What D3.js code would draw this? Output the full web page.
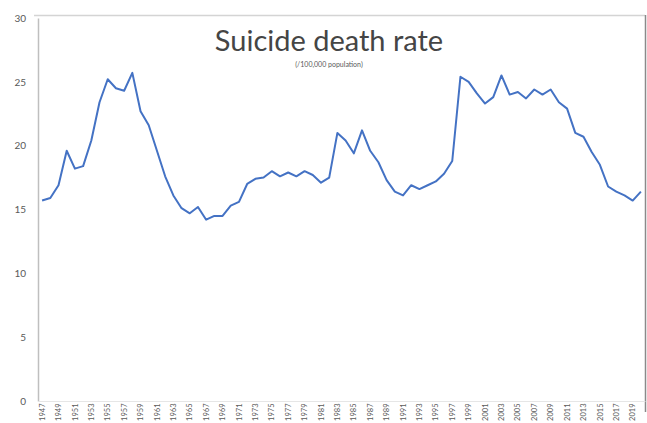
<!DOCTYPE html>
<html>
<head>
<meta charset="utf-8">
<script src="https://cdn.jsdelivr.net/npm/d3@7"></script>
<style>
  html, body { margin: 0; padding: 0; background: #ffffff; }
  svg { display: block; }
</style>
</head>
<body>
<script>
const years = d3.range(1947, 2021).map(String);
const rates = [
  15.7, 15.9, 16.9, 19.6, 18.2, 18.4, 20.4, 23.4, 25.2, 24.5,
  24.3, 25.7, 22.7, 21.6, 19.6, 17.6, 16.1, 15.1, 14.7, 15.2,
  14.2, 14.5, 14.5, 15.3, 15.6, 17.0, 17.4, 17.5, 18.0, 17.6,
  17.9, 17.6, 18.0, 17.7, 17.1, 17.5, 21.0, 20.4, 19.4, 21.2,
  19.6, 18.7, 17.3, 16.4, 16.1, 16.9, 16.6, 16.9, 17.2, 17.8,
  18.8, 25.4, 25.0, 24.1, 23.3, 23.8, 25.5, 24.0, 24.2, 23.7,
  24.4, 24.0, 24.4, 23.4, 22.9, 21.0, 20.7, 19.5, 18.5, 16.8,
  16.4, 16.1, 15.7, 16.4
];
const yTicks = [0, 5, 10, 15, 20, 25, 30];
const xTickLabels = years.filter((y, i) => i % 2 === 0);
const titleText = "Suicide death rate";
const subtitleText = "(/100,000 population)";

const W = 647, H = 423;
const svg = d3.select("body").append("svg").attr("width", W).attr("height", H);

const pLeft = 38, pRight = 645, pTop = 18, pBottom = 401;

const x = d3.scaleBand().domain(years).range([pLeft, pRight]).padding(0);
const y = d3.scaleLinear().domain([0, 30]).range([pBottom, pTop]);

// frame
svg.append("line").attr("x1", 34).attr("x2", pRight).attr("y1", 15.5).attr("y2", 15.5)
  .attr("stroke", "#d4d4d4").attr("stroke-width", 1.5);
svg.append("line").attr("x1", pRight + 0.5).attr("x2", pRight + 0.5).attr("y1", 15).attr("y2", 412)
  .attr("stroke", "#8a8a8a").attr("stroke-width", 1.5);

// y axis
const yAxis = d3.axisLeft(y).tickValues(yTicks).tickSize(0).tickPadding(12);
const gy = svg.append("g").attr("transform", `translate(${pLeft},0)`).call(yAxis);
gy.select(".domain").attr("stroke", "#bfbfbf").attr("stroke-width", 1.5);
gy.selectAll("text").attr("fill", "#595959").style("font-family", "Lato, 'Open Sans', sans-serif").style("font-size", "10px");

// x axis
const xAxis = d3.axisBottom(x).tickValues(xTickLabels).tickSize(0).tickPadding(0);
const gx = svg.append("g").attr("transform", `translate(0,${pBottom})`).call(xAxis);
gx.select(".domain").attr("stroke", "#e6e6e6").attr("stroke-width", 1);
gx.selectAll("text")
  .attr("fill", "#595959")
  .style("font-family", "Lato, 'Open Sans', sans-serif")
  .style("font-size", "7.5px")
  .attr("text-anchor", "end")
  .attr("dy", "0.35em")
  .attr("transform", "translate(0,2.5) rotate(-90)")
  .attr("x", 0).attr("y", 0);

// line
const line = d3.line()
  .x((d, i) => x(years[i]) + x.bandwidth() / 2)
  .y(d => y(d));
svg.append("path").datum(rates)
  .attr("d", line)
  .attr("fill", "none")
  .attr("stroke", "#4472c4")
  .attr("stroke-width", 2)
  .attr("stroke-linejoin", "round");

// titles
svg.append("text").attr("x", 329).attr("y", 51).attr("text-anchor", "middle")
  .attr("fill", "#454545").style("font-family", "Lato, 'Open Sans', sans-serif")
  .style("font-size", "29px").text(titleText);
svg.append("text").attr("x", 329).attr("y", 67).attr("text-anchor", "middle")
  .attr("fill", "#595959").style("font-family", "Lato, 'Open Sans', sans-serif")
  .style("font-size", "7px").text(subtitleText);
</script>
</body>
</html>
